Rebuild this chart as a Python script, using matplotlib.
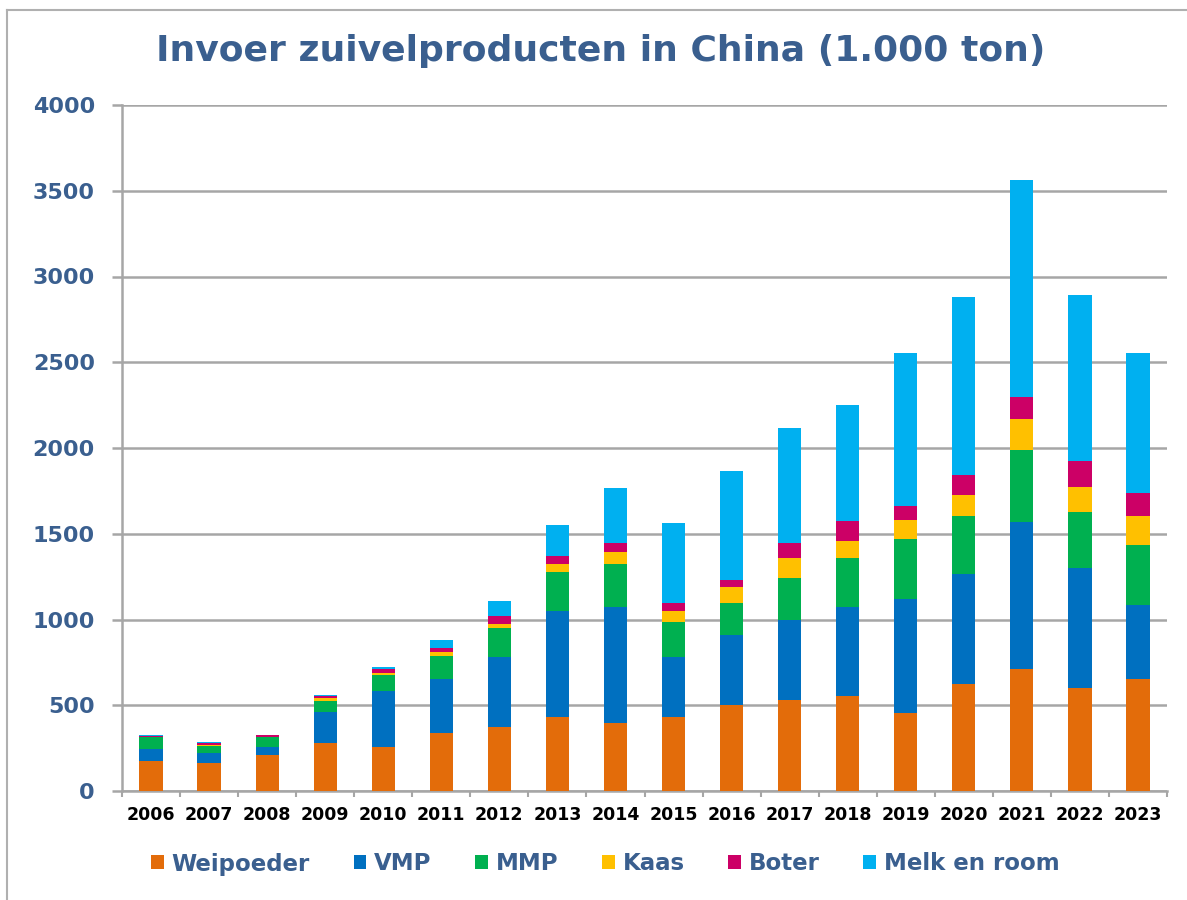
import matplotlib
matplotlib.use("Agg")
import matplotlib.pyplot as plt
from matplotlib.lines import Line2D
import numpy as np

years = ["2006", "2007", "2008", "2009", "2010", "2011", "2012", "2013", "2014",
         "2015", "2016", "2017", "2018", "2019", "2020", "2021", "2022", "2023"]
weipoeder = [177, 165, 210, 278, 257, 336, 374, 432, 397, 432, 500, 533, 555, 453, 622, 712, 600, 655]
vmp       = [68, 58, 47, 183, 328, 317, 409, 620, 677, 351, 407, 463, 520, 665, 645, 859, 700, 432]
mmp       = [67, 38, 56, 66, 89, 136, 169, 225, 248, 202, 190, 248, 282, 349, 337, 420, 328, 349]
kaas      = [2, 9, 3, 15, 12, 23, 23, 47, 69, 67, 91, 113, 102, 116, 124, 178, 147, 168]
boter     = [8, 12, 9, 12, 23, 23, 44, 44, 55, 45, 45, 89, 114, 78, 116, 126, 147, 135]
melk      = [3, 3, 3, 8, 12, 47, 91, 182, 320, 463, 632, 670, 677, 895, 1037, 1267, 973, 817]

series = [weipoeder, vmp, mmp, kaas, boter, melk]
labels = ["Weipoeder", "VMP", "MMP", "Kaas", "Boter", "Melk en room"]
colors = ["#E36C0A", "#0070C0", "#00B050", "#FFC000", "#CC0066", "#00B0F0"]

TXT = "#3A5F8F"
GRID = "#A6A6A6"

fig = plt.figure(figsize=(11.87, 9.0), dpi=100)
ax = fig.add_axes([122/1187, 1-791/900, (1167-122)/1187, (791-105)/900])

x = np.arange(len(years))
bottom = np.zeros(len(years))
handles = []
for vals, lab, col in zip(series, labels, colors):
    b = ax.bar(x, vals, width=0.4, bottom=bottom, color=col, label=lab, zorder=3,
               edgecolor="none")
    handles.append(b)
    bottom += np.array(vals)

ax.set_xlim(-0.5, len(years) - 0.5)
ax.set_ylim(0, 4000)
ax.set_yticks(range(0, 4001, 500))
ax.yaxis.grid(True, color=GRID, linewidth=1.8, zorder=0)
ax.set_axisbelow(True)

for s in ["top", "right"]:
    ax.spines[s].set_visible(False)
ax.spines["left"].set_color(GRID)
ax.spines["left"].set_linewidth(1.8)
ax.spines["bottom"].set_color(GRID)
ax.spines["bottom"].set_linewidth(1.8)

ax.tick_params(axis="y", length=7, width=1.8, color=GRID, pad=12.5,
               labelsize=16, labelcolor=TXT)
for t in ax.get_yticklabels():
    t.set_fontweight("bold")

ax.set_xticks(x)
ax.set_xticklabels(years, fontsize=12.5, fontweight="bold", color="black")
ax.tick_params(axis="x", which="major", length=0, pad=10.5)
ax.set_xticks(np.arange(-0.5, len(years)), minor=True)
ax.tick_params(axis="x", which="minor", length=4, width=1.5, color=GRID)

fig.text(0.506, 1 - 51/900, "Invoer zuivelproducten in China (1.000 ton)",
         ha="center", va="center", fontsize=26, fontweight="bold", color=TXT)

leg = fig.legend(handles, labels, loc="center", bbox_to_anchor=(0.51, 1 - 864/900),
                 ncol=6, frameon=False, handlelength=0.55, handleheight=0.55,
                 handletextpad=0.35, columnspacing=1.9,
                 prop={"size": 16.5, "weight": "bold"})
for t in leg.get_texts():
    t.set_color(TXT)

# chart border (top and left edges visible)
fig.add_artist(Line2D([7/1187, 1187/1187], [1 - 10/900, 1 - 10/900],
                      transform=fig.transFigure, color="#B0B0B0", linewidth=1.5))
fig.add_artist(Line2D([7/1187, 7/1187], [0, 1 - 10/900],
                      transform=fig.transFigure, color="#B0B0B0", linewidth=1.5))

fig.savefig("out.png", dpi=100)
